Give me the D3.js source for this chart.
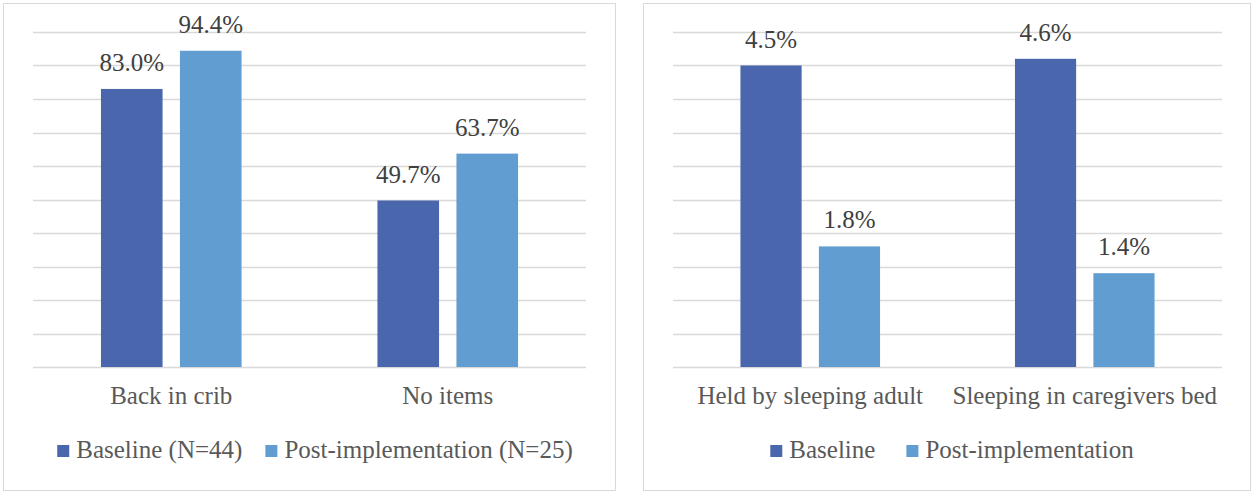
<!DOCTYPE html>
<html>
<head>
<meta charset="utf-8">
<script src="https://cdn.jsdelivr.net/npm/d3@7"></script>
<style>
  body { margin: 0; background: #fff; }
  svg { display: block; }
  text { font-family: "Liberation Serif", "Times New Roman", serif; }
</style>
</head>
<body>
<div id="chart"></div>
<script>

// left chart
const leftCategories = ["Back in crib", "No items"];
const leftBaseline = [83.0, 49.7];
const leftPost = [94.4, 63.7];
const leftSeries = ["Baseline (N=44)", "Post-implementation (N=25)"];
const leftMax = 100;

// right chart
const rightCategories = ["Held by sleeping adult", "Sleeping in caregivers bed"];
const rightBaseline = [4.5, 4.6];
const rightPost = [1.8, 1.4];
const rightSeries = ["Baseline", "Post-implementation"];
const rightMax = 5;

const colors = ["#4a66ac", "#629dd1"];
const fontSize = 25;

let svg = d3.select("#chart")
    .append("svg")
    .attr("width", 1252)
    .attr("height", 491);

let drawPanel = function(opts) {

    let box = opts.box;
    let g = svg.append("g");

    g.append("rect")
        .attr("x", box.x + 0.5)
        .attr("y", box.y + 0.5)
        .attr("width", box.w)
        .attr("height", box.h)
        .attr("fill", "#fff")
        .attr("stroke", "#d9d9d9")
        .attr("stroke-width", 1);

    const y = d3.scaleLinear()
        .domain([0, opts.max])
        .range([367, 32]);

    const x0 = d3.scaleBand()
        .domain(opts.categories)
        .range([opts.plotLeft, opts.plotRight]);

    const x1 = d3.scaleBand()
        .domain([0, 1])
        .range([0, x0.bandwidth()])
        .paddingInner(0.22)
        .paddingOuter(0.86);

    // gridlines
    g.append("g")
        .selectAll("line")
        .data(y.ticks(10))
        .enter()
        .append("line")
        .attr("x1", opts.plotLeft)
        .attr("x2", opts.plotRight)
        .attr("y1", function(d) { return Math.round(y(d)) + 0.5; })
        .attr("y2", function(d) { return Math.round(y(d)) + 0.5; })
        .attr("stroke", "#d9d9d9")
        .attr("stroke-width", 1.3);

    let rows = opts.categories.map(function(c, i) {
        return { cat: c, values: [opts.baseline[i], opts.post[i]] };
    });

    let groups = g.append("g")
        .selectAll("g")
        .data(rows)
        .enter()
        .append("g")
        .attr("transform", function(d) { return "translate(" + x0(d.cat) + ",0)"; });

    groups.selectAll("rect")
        .data(function(d) { return d.values; })
        .enter()
        .append("rect")
        .attr("x", function(d, i) { return x1(i); })
        .attr("y", function(d) { return y(d); })
        .attr("width", x1.bandwidth())
        .attr("height", function(d) { return y(0) - y(d); })
        .attr("fill", function(d, i) { return colors[i]; });

    groups.selectAll("text")
        .data(function(d) { return d.values; })
        .enter()
        .append("text")
        .attr("x", function(d, i) { return x1(i) + x1.bandwidth() / 2; })
        .attr("y", function(d) { return y(d) - 18; })
        .attr("text-anchor", "middle")
        .attr("font-size", fontSize)
        .attr("fill", "#404040")
        .text(function(d) { return d3.format(".1f")(d) + "%"; });

    // category axis
    let axis = g.append("g")
        .attr("transform", "translate(0," + y(0) + ")")
        .call(d3.axisBottom(x0).tickSize(0));
    axis.select(".domain").remove();
    axis.selectAll("text")
        .attr("y", 37)
        .attr("dy", 0)
        .attr("font-size", fontSize)
        .attr("fill", "#595959");

    // legend
    let legend = g.append("g");
    let xPos = 0;
    opts.series.forEach(function(name, i) {
        legend.append("rect")
            .attr("x", xPos)
            .attr("y", 445)
            .attr("width", 12)
            .attr("height", 12)
            .attr("fill", colors[i]);
        let t = legend.append("text")
            .attr("x", xPos + 19)
            .attr("y", 458)
            .attr("font-size", fontSize)
            .attr("fill", "#595959")
            .text(name);
        xPos += 19 + t.node().getComputedTextLength() + opts.legendGap;
    });
    let legendWidth = xPos - opts.legendGap;
    legend.attr("transform", "translate(" + (opts.legendCenter - legendWidth / 2) + ",0)");
};

drawPanel({
    box: { x: 3, y: 3, w: 612, h: 487 },
    plotLeft: 33,
    plotRight: 586,
    max: leftMax,
    categories: leftCategories,
    baseline: leftBaseline,
    post: leftPost,
    series: leftSeries,
    legendGap: 23,
    legendCenter: 315
});

drawPanel({
    box: { x: 643, y: 3, w: 607, h: 487 },
    plotLeft: 673,
    plotRight: 1222,
    max: rightMax,
    categories: rightCategories,
    baseline: rightBaseline,
    post: rightPost,
    series: rightSeries,
    legendGap: 31,
    legendCenter: 952
});

</script>
</body>
</html>
